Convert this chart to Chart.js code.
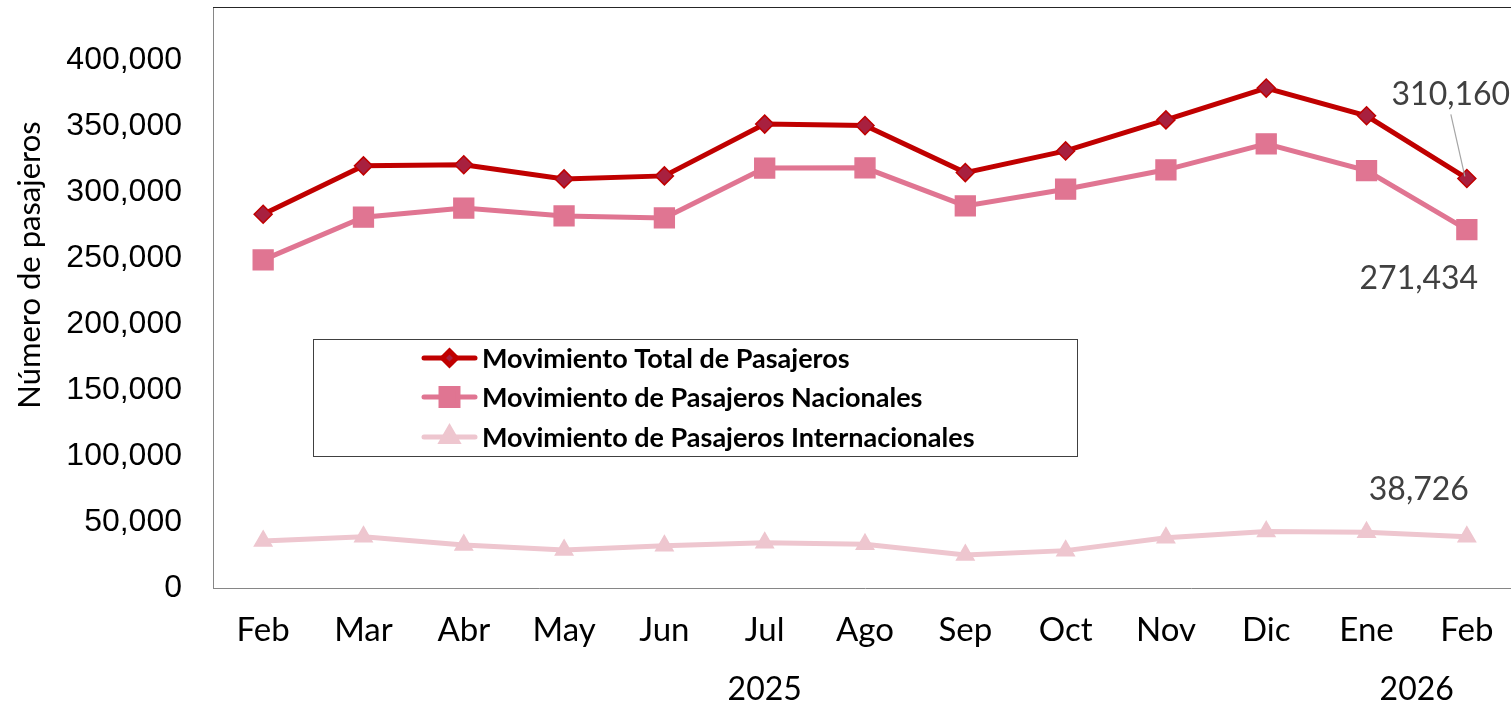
<!DOCTYPE html>
<html><head><meta charset="utf-8">
<script src="https://cdn.jsdelivr.net/npm/chart.js@4"></script>
<style>
html,body{margin:0;padding:0;overflow:hidden;background:#fff;width:1511px;height:706px}
#wrap{position:absolute;left:0;top:0;width:1517px;height:706px}
</style>
</head><body><div id="wrap"><canvas id="c" width="1517" height="706"></canvas></div>
<script>
const categories = ['Feb','Mar','Abr','May','Jun','Jul','Ago','Sep','Oct','Nov','Dic','Ene','Feb'];
const years = ['2025','2026'];
const yearSpans = [[0,10],[11,12]];
const totalValues = [283000, 319700, 320500, 309800, 312100, 351300, 350200, 314600, 331000, 354500, 378600, 357600, 310160];
const nacionalValues = [248500, 280800, 287700, 281800, 280300, 318000, 318200, 289400, 302000, 316700, 336400, 316100, 271434];
const internacionalValues = [35600, 38900, 32600, 28800, 32000, 34300, 33100, 25000, 28300, 38100, 42700, 42200, 38726];
const seriesNames = ['Movimiento Total de Pasajeros','Movimiento de Pasajeros Nacionales','Movimiento de Pasajeros Internacionales'];
const yTickValues = [0, 50000, 100000, 150000, 200000, 250000, 300000, 350000, 400000];
const yTitle = 'Número de pasajeros';

const fmt = v => v.toLocaleString('en-US');

const styles = [
  {line:'#C00000', fill:'#A8203F', border:'#C00000', point:'rectRot', r:9, lr:7},
  {line:'#E07592', fill:'#E07592', border:'#E07592', point:'rect', r:14, lr:12},
  {line:'#EEC6CF', fill:'#EEC6CF', border:'#EEC6CF', point:'triangle', r:10, lr:9}
];
const seriesValues = [totalValues, nacionalValues, internacionalValues];

const overlay = {
  id:'overlay',
  afterDraw(chart){
    const ctx = chart.ctx, ca = chart.chartArea;
    const xs = chart.scales.x, ys = chart.scales.y;
    ctx.save();
    // top border of plot area
    ctx.strokeStyle = '#262626'; ctx.lineWidth = 1;
    ctx.beginPath(); ctx.moveTo(ca.left, ca.top + 0.5); ctx.lineTo(ca.right, ca.top + 0.5); ctx.stroke();

    // legend
    const lx = 313.5, ly = 339.5, lw = 764, lh = 117;
    ctx.fillStyle = '#fff'; ctx.fillRect(lx, ly, lw, lh);
    ctx.strokeStyle = '#404040'; ctx.lineWidth = 1; ctx.strokeRect(lx, ly, lw, lh);
    const rows = [358, 397, 437];
    seriesNames.forEach((name, i) => {
      const st = styles[i], y = rows[i];
      ctx.strokeStyle = st.line; ctx.lineWidth = 5; ctx.lineCap = 'round';
      ctx.beginPath(); ctx.moveTo(424, y); ctx.lineTo(475, y); ctx.stroke();
      ctx.lineCap = 'butt';
      ctx.fillStyle = st.fill; ctx.strokeStyle = st.border;
      Chart.helpers.drawPoint(ctx, {pointStyle: st.point, radius: st.lr, borderWidth: 1.5, rotation: 0}, 449.5, y);
      ctx.fillStyle = '#000'; ctx.font = 'bold 27px Lato'; ctx.textAlign = 'left'; ctx.textBaseline = 'middle';
      ctx.fillText(name, 482, y + 1);
    });

    // y axis title
    ctx.save();
    ctx.translate(30, 265); ctx.rotate(-Math.PI/2);
    ctx.fillStyle = '#000'; ctx.font = '31px Lato'; ctx.textAlign = 'center'; ctx.textBaseline = 'middle';
    ctx.fillText(yTitle, 0, 0);
    ctx.restore();

    // year labels
    ctx.fillStyle = '#000'; ctx.font = '32px Lato'; ctx.textAlign = 'center'; ctx.textBaseline = 'middle';
    years.forEach((yr, i) => {
      const [a, b] = yearSpans[i];
      const cx = (xs.getPixelForValue(a) + xs.getPixelForValue(b)) / 2;
      ctx.fillText(yr, cx, 690);
    });

    // data labels for last points
    const last = categories.length - 1;
    const px = xs.getPixelForValue(last);
    ctx.font = '32px Lato'; ctx.fillStyle = '#404040';
    const pT = ys.getPixelForValue(totalValues[last]);
    const pN = ys.getPixelForValue(nacionalValues[last]);
    const pI = ys.getPixelForValue(internacionalValues[last]);
    ctx.fillText(fmt(totalValues[last]), px - 16, pT - 84);
    ctx.fillText(fmt(nacionalValues[last]), px - 48, pN + 49);
    ctx.fillText(fmt(internacionalValues[last]), px - 48, pI - 47);
    ctx.strokeStyle = '#A6A6A6'; ctx.lineWidth = 1.2;
    ctx.beginPath(); ctx.moveTo(px - 16, pT - 64); ctx.lineTo(px - 2, pT - 2); ctx.stroke();
    ctx.restore();
  }
};

new Chart(document.getElementById('c'), {
  type: 'line',
  data: {
    labels: categories,
    datasets: seriesNames.map((name, i) => ({
      label: name,
      data: seriesValues[i],
      borderColor: styles[i].line,
      backgroundColor: styles[i].fill,
      borderWidth: 5,
      tension: 0,
      pointStyle: styles[i].point,
      pointRadius: styles[i].r,
      pointHoverRadius: styles[i].r,
      pointBackgroundColor: styles[i].fill,
      pointBorderColor: styles[i].border,
      pointBorderWidth: 1.5,
      clip: false
    }))
  },
  options: {
    responsive: false,
    animation: false,
    devicePixelRatio: 1,
    layout: {autoPadding: false, padding: {top: 7, left: 0, right: 0, bottom: 0}},
    plugins: {legend: {display: false}, tooltip: {enabled: false}},
    scales: {
      x: {
        type: 'category',
        offset: true,
        grid: {display: false, drawTicks: false},
        border: {display: true, color: '#868686', width: 1},
        ticks: {font: {family: 'Lato', size: 33}, color: '#000', padding: 23, maxRotation: 0, autoSkip: false},
        afterFit: s => { s.height = 118; s.paddingLeft = 0; s.paddingRight = 0; }
      },
      y: {
        min: 0, max: 440000,
        grid: {display: false, drawTicks: false},
        border: {display: true, color: '#868686', width: 1},
        ticks: {font: {family: 'Liberation Sans', size: 32}, color: '#000', padding: 31, callback: v => fmt(v)},
        afterBuildTicks: s => { s.ticks = yTickValues.map(v => ({value: v})); },
        afterFit: s => { s.width = 213; s.paddingTop = 0; s.paddingBottom = 0; }
      }
    }
  },
  plugins: [overlay]
});
</script>
</body></html>
